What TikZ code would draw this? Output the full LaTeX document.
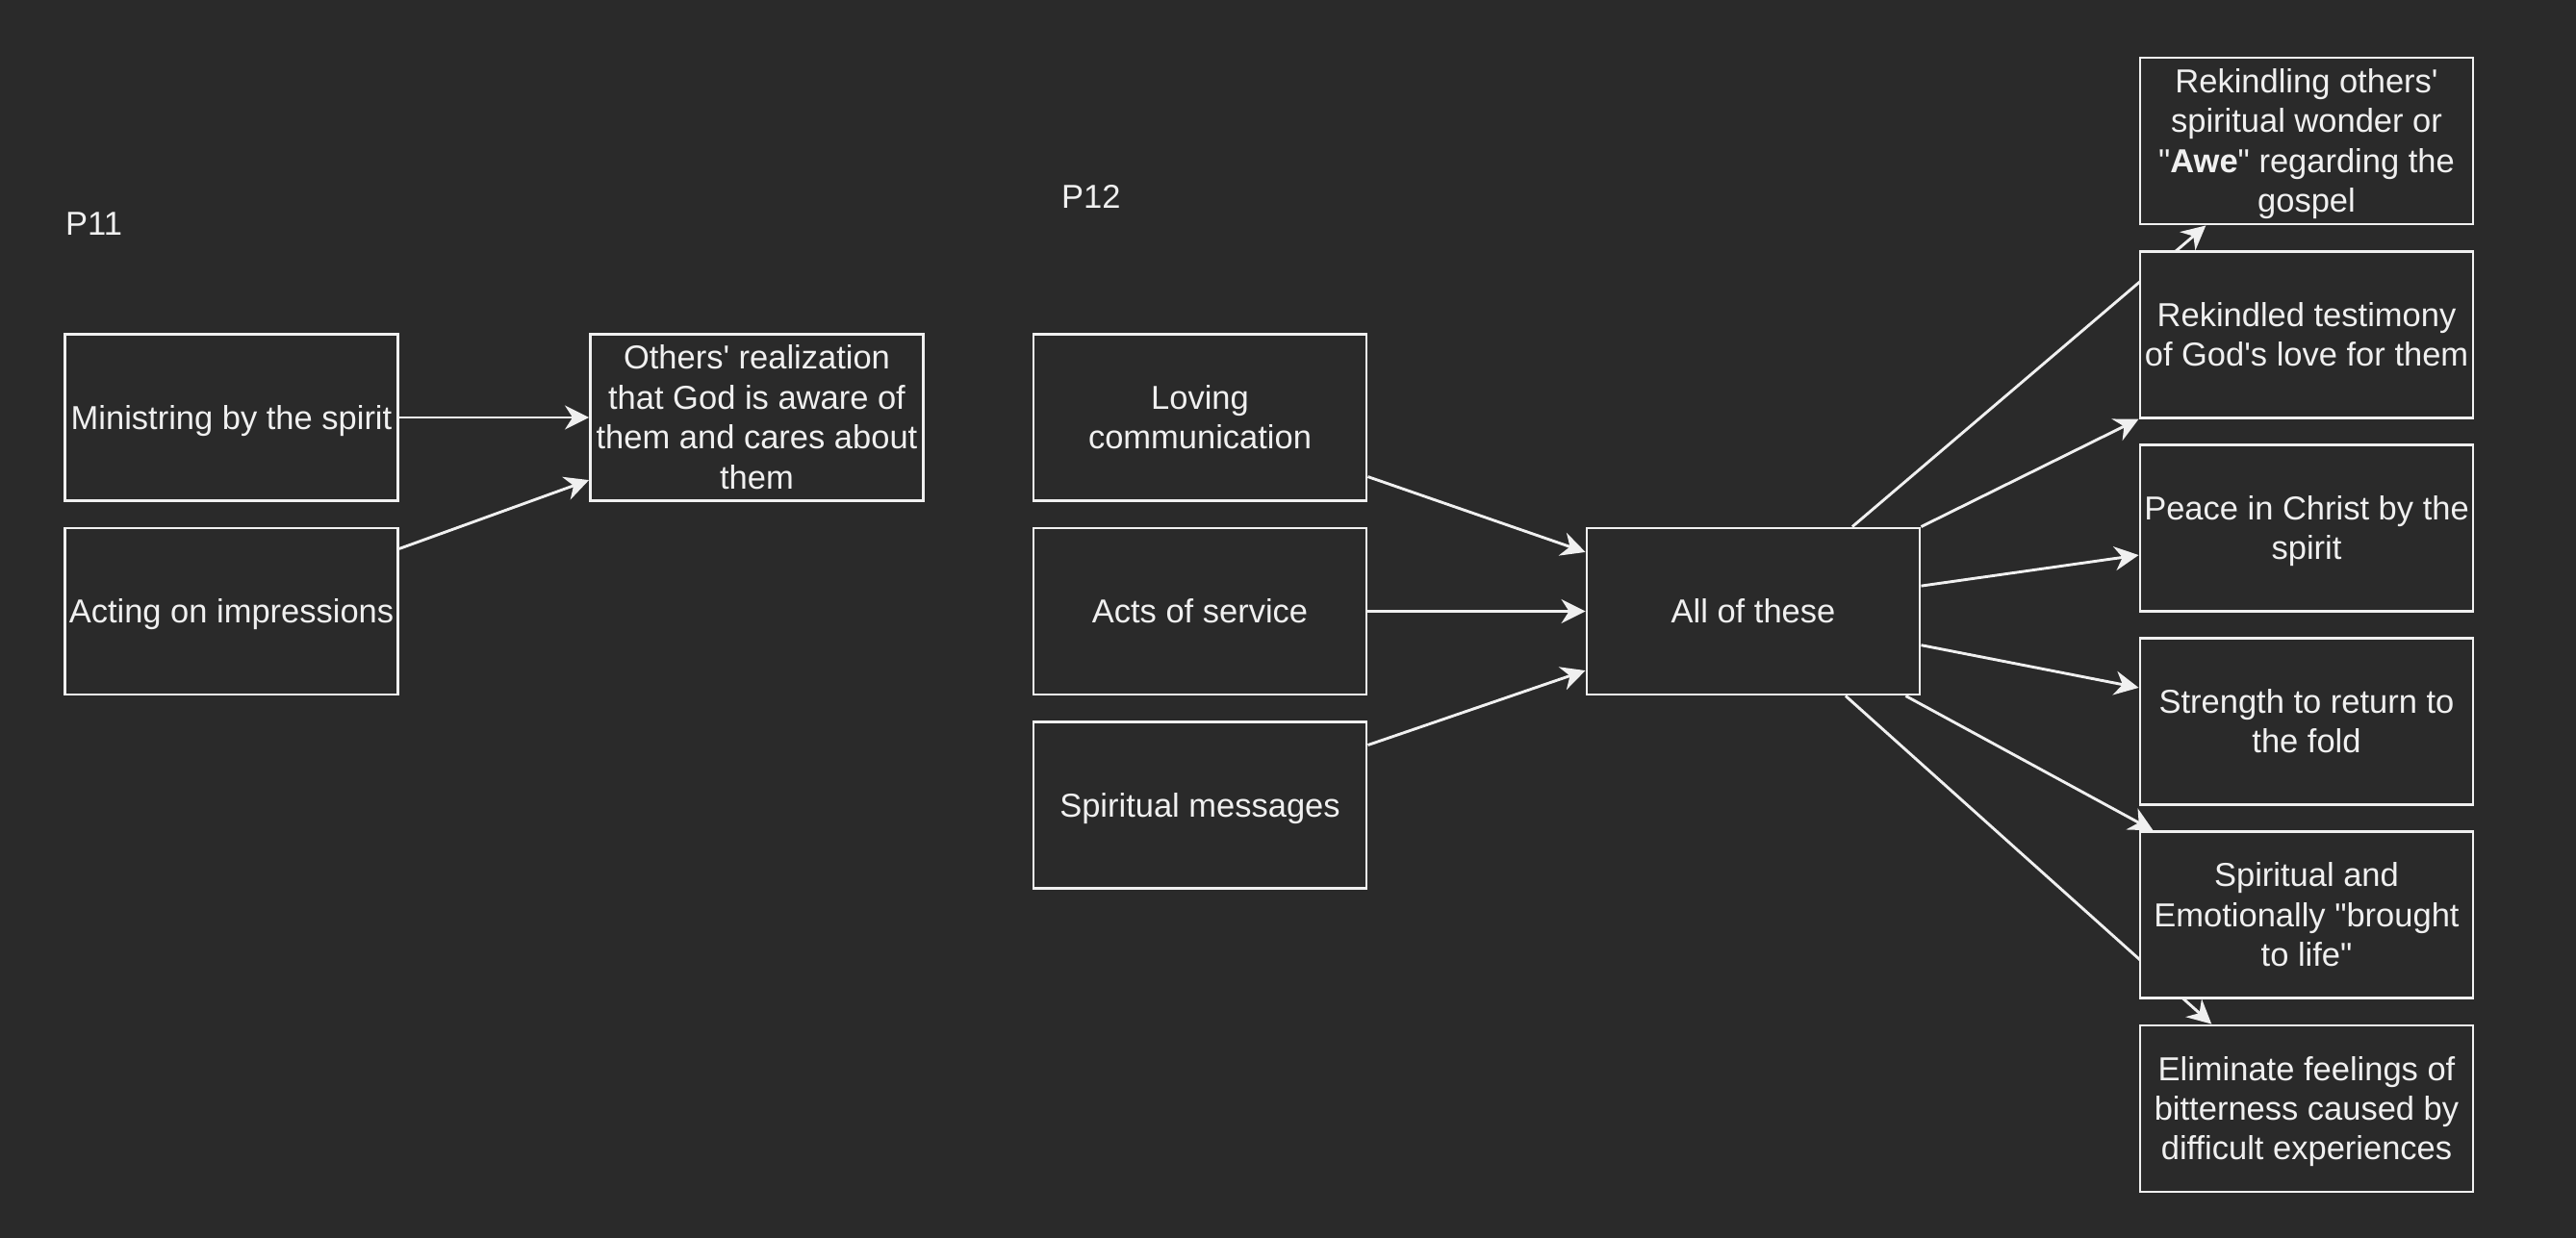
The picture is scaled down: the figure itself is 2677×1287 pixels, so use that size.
\documentclass[tikz,border=0pt]{standalone}
\usepackage{fontspec}
\newfontfamily\dfont{Liberation Sans}
\usetikzlibrary{calc,arrows.meta}
\definecolor{bgc}{HTML}{2A2A2A}
\definecolor{fgc}{HTML}{F0F0F0}
\newcommand\dstrut{\rule[-8.7pt]{0pt}{41.4pt}}
\pgfdeclarelayer{bglayer}
\pgfdeclarelayer{edgelayer}
\pgfsetlayers{bglayer,edgelayer,main}
\tikzset{
  box/.style={draw=fgc, fill=bgc, line width=2.9pt, minimum width=346pt, minimum height=173pt,
    inner sep=0pt, align=center, text=fgc, font=\dfont\fontsize{34.5}{41.4}\selectfont},
  lbl/.style={inner sep=0pt, anchor=base west, text=fgc, font=\dfont\fontsize{34.5}{41.4}\selectfont},
  conn/.style={draw=fgc, line width=2.9pt, -{Stealth[length=25pt, width=25pt, inset=8pt]}}
}
\begin{document}
\begin{tikzpicture}[x=1pt, y=-1pt]
\begin{pgfonlayer}{bglayer}
\fill[bgc] (0,0) rectangle (2677,1287);
\end{pgfonlayer}
\useasboundingbox (0,0) rectangle (2677,1287);

\node[lbl] (p11) at (68,244) {P11};
\node[lbl] (p12) at (1103,216) {P12};

\node[box] (min) at (240.5,434) {\dstrut Ministring by the spirit\dstrut};
\node[box] (act) at (240.5,635.5) {\dstrut Acting on impressions\dstrut};
\node[box] (oth) at (786.5,434) {\dstrut Others' realization\\that God is aware of\\them and cares about\\them\dstrut};

\node[box] (lov) at (1247,434) {\dstrut Loving\\communication\dstrut};
\node[box] (acs) at (1247,635.5) {\dstrut Acts of service\dstrut};
\node[box] (smg) at (1247,837) {\dstrut Spiritual messages\dstrut};
\node[box] (all) at (1822,635.5) {\dstrut All of these\dstrut};

\node[box] (r1) at (2397,146.5) {\dstrut Rekindling others'\\spiritual wonder or\\"\textbf{Awe}" regarding the\\gospel\dstrut};
\node[box] (r2) at (2397,347.7) {\dstrut Rekindled testimony\\of God's love for them\dstrut};
\node[box] (r3) at (2397,548.9) {\dstrut Peace in Christ by the\\spirit\dstrut};
\node[box] (r4) at (2397,750.1) {\dstrut Strength to return to\\the fold\dstrut};
\node[box] (r5) at (2397,951.3) {\dstrut Spiritual and\\Emotionally "brought\\to life"\dstrut};
\node[box] (r6) at (2397,1152.5) {\dstrut Eliminate feelings of\\bitterness caused by\\difficult experiences\dstrut};

\begin{pgfonlayer}{edgelayer}
\draw[conn] (min.east) -- (oth.west);
\draw[conn] ($(act.north east)!0.13!(act.south east)$) -- ($(oth.north west)!0.87!(oth.south west)$);
\draw[conn] ($(lov.north east)!0.85!(lov.south east)$) -- ($(all.north west)!0.15!(all.south west)$);
\draw[conn] (acs.east) -- (all.west);
\draw[conn] ($(smg.north east)!0.145!(smg.south east)$) -- ($(all.north west)!0.85!(all.south west)$);
\draw[conn] ($(all.north west)!0.795!(all.north east)$) -- ($(r1.south west)!0.2!(r1.south east)$);
\draw[conn] (all.north east) -- (r2.south west);
\draw[conn] ($(all.north east)!0.35!(all.south east)$) -- ($(r3.north west)!0.66!(r3.south west)$);
\draw[conn] ($(all.north east)!0.70!(all.south east)$) -- ($(r4.north west)!0.30!(r4.south west)$);
\draw[conn] ($(all.south west)!0.954!(all.south east)$) -- ($(r5.north west)!0.043!(r5.north east)$);
\draw[conn] ($(all.south west)!0.775!(all.south east)$) -- ($(r6.north west)!0.217!(r6.north east)$);
\end{pgfonlayer}
\end{tikzpicture}
\end{document}
